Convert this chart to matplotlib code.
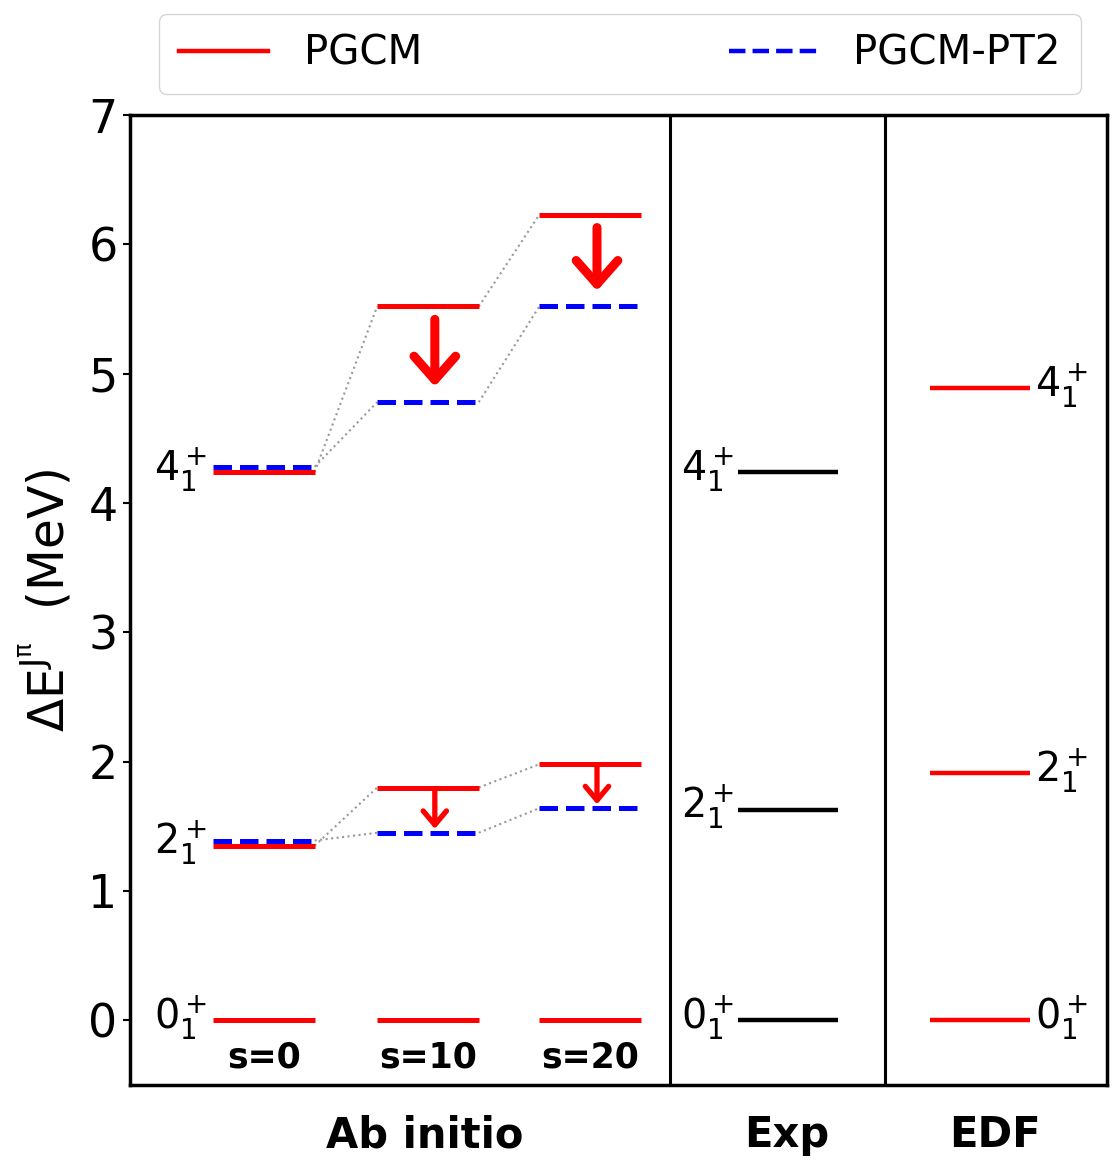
import matplotlib
matplotlib.use("Agg")
import matplotlib.pyplot as plt
from matplotlib.lines import Line2D

plt.rcParams['font.family'] = ['DejaVu Sans']
plt.rcParams['mathtext.fontset'] = 'dejavusans'

# ---------------- data ----------------
state_labels = [r'$0_1^+$', r'$2_1^+$', r'$4_1^+$']
s_labels = ['s=0', 's=10', 's=20']
pgcm_s0 = [0.0, 1.35, 4.24]
pgcm_s10 = [0.0, 1.80, 5.52]
pgcm_s20 = [0.0, 1.98, 6.23]
pt2_s0 = [1.39, 4.28]      # 2+ , 4+
pt2_s10 = [1.45, 4.78]
pt2_s20 = [1.64, 5.52]
exp_levels = [0.0, 1.63, 4.24]
edf_levels = [0.0, 1.91, 4.89]
group_labels = ['Ab initio', 'Exp', 'EDF']

# ---------------- layout (style) ----------------
ab_left = [0.85, 2.53, 4.19]
bar_w = 1.04
exp_left, exp_w = 6.22, 1.03
edf_left, edf_w = 8.19, 1.02
div1, div2 = 5.53, 7.73

fig = plt.figure(figsize=(11.14, 11.68), dpi=100)
ax = fig.add_axes([0.1167, 0.0711, 0.877, 0.8304])
ax.set_xlim(0, 10)
ax.set_ylim(-0.5, 7)

pgcm_all = [pgcm_s0, pgcm_s10, pgcm_s20]
pt2_all = [pt2_s0, pt2_s10, pt2_s20]

lw_bar = 3.6
for i in range(3):
    x0 = ab_left[i]
    for v in pgcm_all[i]:
        ax.plot([x0, x0 + bar_w], [v, v], color='red', lw=lw_bar, solid_capstyle='butt', zorder=3)
    for v in pt2_all[i]:
        ax.plot([x0, x0 + bar_w], [v, v], color='blue', lw=lw_bar, ls='--', zorder=4)

# connectors
for i in range(2):
    xa = ab_left[i] + bar_w
    xb = ab_left[i + 1]
    for k in (1, 2):
        ax.plot([xa, xb], [pgcm_all[i][k], pgcm_all[i + 1][k]], color='0.6', lw=1.5, ls=':', zorder=2)
        ax.plot([xa, xb], [pt2_all[i][k - 1], pt2_all[i + 1][k - 1]], color='0.6', lw=1.5, ls=':', zorder=2)

# arrows
for i in (1, 2):
    xc = ab_left[i] + bar_w / 2 + 0.07
    # 4+ big
    top = pgcm_all[i][2] - 0.10
    bot = pt2_all[i][1] + 0.12
    ax.annotate('', xy=(xc, bot), xytext=(xc, top),
                arrowprops=dict(arrowstyle='->,head_length=0.85,head_width=0.75',
                                lw=6.5, color='red', shrinkA=0, shrinkB=0,
                                mutation_scale=20), zorder=5)
    # 2+ small
    top = pgcm_all[i][1] - 0.02
    bot = pt2_all[i][0] + 0.03
    ax.annotate('', xy=(xc, bot), xytext=(xc, top),
                arrowprops=dict(arrowstyle='->,head_length=0.5,head_width=0.42',
                                lw=3.8, color='red', shrinkA=0, shrinkB=0,
                                mutation_scale=20), zorder=5)

# exp & edf
for v in exp_levels:
    ax.plot([exp_left, exp_left + exp_w], [v, v], color='black', lw=3.2, solid_capstyle='butt')
for v in edf_levels:
    ax.plot([edf_left, edf_left + edf_w], [v, v], color='red', lw=3.2, solid_capstyle='butt')

# state labels
fs_state = 28.5
for k, lab in enumerate(state_labels):
    ax.text(ab_left[0] - 0.06, pgcm_s0[k] + 0.02, lab, ha='right', va='center', fontsize=fs_state)
    ax.text(exp_left - 0.03, exp_levels[k] + 0.02, lab, ha='right', va='center', fontsize=fs_state)
    ax.text(edf_left + edf_w + 0.05, edf_levels[k] + 0.02, lab, ha='left', va='center', fontsize=fs_state)

# s labels
for i, s in enumerate(s_labels):
    ax.text(ab_left[i] + bar_w / 2, -0.29, s, ha='center', va='center', fontsize=25, fontweight='bold')

# dividers
ax.axvline(div1, color='black', lw=2.2)
ax.axvline(div2, color='black', lw=2.2)

# group labels
trans = ax.get_xaxis_transform()
for xg, lab in zip([3.02, 6.72, 8.85], group_labels):
    ax.text(xg, -0.052, lab, transform=trans, ha='center', va='center', fontsize=30, fontweight='bold')

ax.set_xticks([])
ax.set_yticks(range(0, 8))
ax.tick_params(axis='y', labelsize=33, length=5, width=1.5, pad=4)
for sp in ax.spines.values():
    sp.set_linewidth(2.5)

ax.set_ylabel(r'$\mathrm{\Delta E^{J^{\pi}}}$  (MeV)', fontsize=35)
ax.yaxis.set_label_coords(-0.058, 0.5)

handles = [Line2D([0], [0], color='red', lw=3.2),
           Line2D([0], [0], color='blue', lw=3.2, ls='--')]
fig.legend(handles, ['PGCM', 'PGCM-PT2'], loc='center', bbox_to_anchor=(0.5566, 0.954),
           ncol=2, fontsize=29, handlelength=2.2, handletextpad=0.9, columnspacing=7.6,
           borderpad=0.5, frameon=True)

fig.savefig('out.png', dpi=100)
